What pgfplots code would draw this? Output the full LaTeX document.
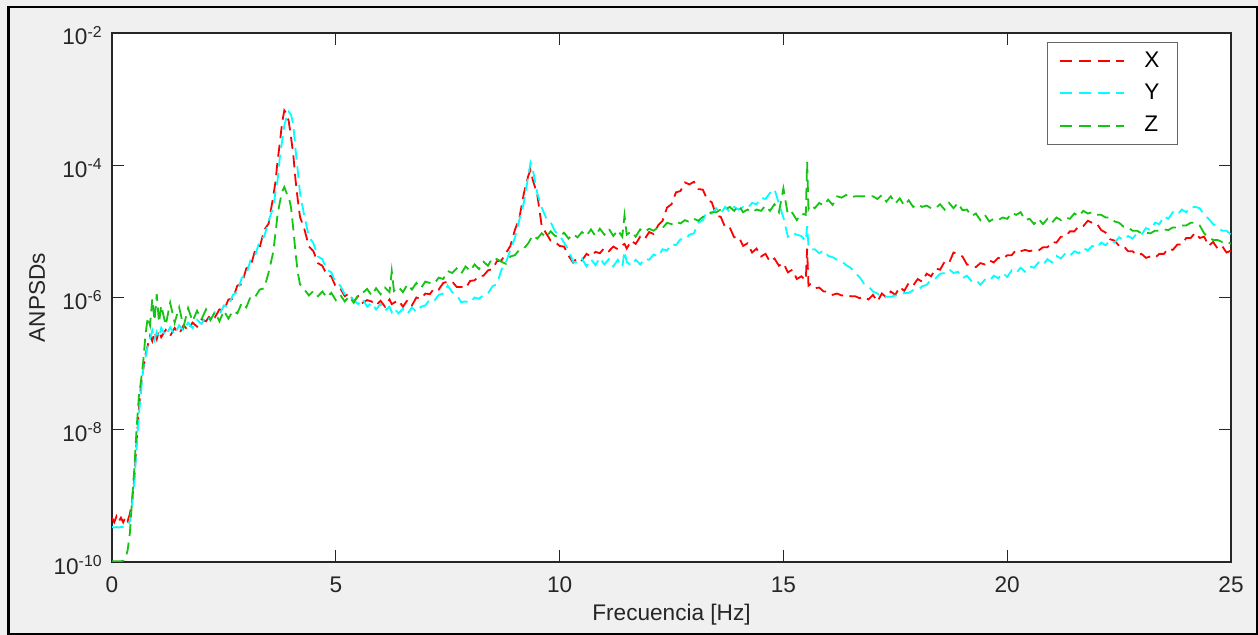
\documentclass[border=0pt]{standalone}
\usepackage{pgfplots}
\usepackage{pgfplotstable}
\pgfplotsset{compat=1.18}
\usepackage{fontspec}
\setmainfont{Liberation Sans}

\definecolor{figbg}{RGB}{240,240,240}
\definecolor{axcol}{RGB}{38,38,38}
\definecolor{cX}{RGB}{255,0,0}
\definecolor{cY}{RGB}{0,255,255}
\definecolor{cZ}{RGB}{20,195,20}

% log10 of the averaged normalised PSD per direction
\pgfplotstableread{
f      X      Y      Z
0.00  -9.33  -9.47  -9.99
0.05  -9.40  -9.48  -9.99
0.10  -9.31  -9.47  -9.99
0.15  -9.39  -9.48  -9.99
0.20  -9.33  -9.47  -9.99
0.25  -9.40  -9.47  -9.98
0.30  -9.32  -9.47  -9.94
0.35  -9.38  -9.45  -9.82
0.40  -9.27  -9.38  -9.56
0.45  -9.08  -9.12  -9.05
0.50  -8.72  -8.78  -8.58
0.55  -8.18  -8.25  -7.98
0.60  -7.70  -7.78  -7.50
0.65  -7.30  -7.42  -7.25
0.70  -7.08  -7.05  -6.95
0.75  -6.86  -6.90  -6.55
0.80  -6.72  -6.72  -6.30
0.85  -6.58  -6.62  -6.42
0.90  -6.66  -6.50  -6.02
0.95  -6.52  -6.64  -6.35
1.00  -6.63  -6.52  -5.95
1.05  -6.50  -6.60  -6.38
1.10  -6.60  -6.46  -6.12
1.20  -6.49  -6.58  -6.42
1.30  -6.58  -6.45  -6.08
1.40  -6.46  -6.56  -6.38
1.50  -6.55  -6.42  -6.15
1.60  -6.42  -6.50  -6.44
1.70  -6.50  -6.38  -6.16
1.80  -6.38  -6.46  -6.36
1.90  -6.44  -6.34  -6.20
2.00  -6.33  -6.40  -6.33
2.10  -6.36  -6.28  -6.18
2.20  -6.26  -6.34  -6.34
2.30  -6.30  -6.22  -6.22
2.40  -6.18  -6.26  -6.36
2.50  -6.20  -6.12  -6.20
2.60  -6.03  -6.14  -6.32
2.70  -6.02  -5.96  -6.20
2.80  -5.82  -5.92  -6.24
2.90  -5.80  -5.70  -6.08
3.00  -5.56  -5.66  -6.15
3.10  -5.52  -5.42  -5.98
3.20  -5.28  -5.36  -5.99
3.30  -5.24  -5.14  -5.88
3.40  -4.98  -5.08  -5.86
3.50  -4.88  -4.84  -5.62
3.60  -4.48  -4.64  -5.32
3.65  -4.26  -4.42  -5.04
3.70  -3.93  -4.22  -4.74
3.75  -3.66  -3.88  -4.56
3.80  -3.36  -3.64  -4.40
3.85  -3.17  -3.40  -4.33
3.90  -3.22  -3.27  -4.42
3.95  -3.34  -3.19  -4.48
4.00  -3.58  -3.24  -4.64
4.05  -3.84  -3.38  -4.96
4.10  -4.22  -3.76  -5.32
4.15  -4.52  -4.08  -5.62
4.20  -4.78  -4.42  -5.80
4.30  -4.97  -4.78  -5.88
4.40  -5.23  -5.08  -5.97
4.50  -5.30  -5.18  -5.90
4.60  -5.48  -5.38  -5.98
4.70  -5.52  -5.42  -5.91
4.80  -5.66  -5.58  -6.00
4.90  -5.68  -5.62  -5.93
5.00  -5.84  -5.78  -6.04
5.10  -5.86  -5.82  -5.96
5.20  -5.98  -5.95  -6.06
5.30  -5.94  -5.96  -5.98
5.40  -6.06  -6.04  -6.08
5.50  -5.98  -6.10  -5.96
5.60  -6.08  -6.02  -5.93
5.70  -6.04  -6.14  -5.87
5.80  -6.06  -6.08  -5.97
5.90  -6.12  -6.18  -5.86
6.00  -6.05  -6.10  -5.95
6.10  -6.14  -6.20  -5.85
6.20  -6.03  -6.14  -5.92
6.25  -6.10  -6.22  -5.60
6.30  -6.08  -6.16  -5.90
6.40  -6.04  -6.24  -5.84
6.50  -6.14  -6.17  -5.92
6.60  -6.04  -6.25  -5.80
6.70  -6.12  -6.15  -5.88
6.80  -6.00  -6.22  -5.78
6.90  -6.02  -6.14  -5.86
7.00  -5.94  -6.12  -5.76
7.10  -5.95  -6.03  -5.78
7.20  -5.86  -6.05  -5.79
7.30  -5.88  -5.96  -5.70
7.40  -5.78  -5.94  -5.72
7.50  -5.76  -5.82  -5.60
7.60  -5.76  -5.92  -5.63
7.70  -5.84  -5.96  -5.56
7.80  -5.84  -6.07  -5.64
7.90  -5.86  -6.06  -5.53
8.00  -5.75  -6.08  -5.60
8.10  -5.74  -6.00  -5.50
8.20  -5.67  -6.02  -5.57
8.30  -5.67  -5.96  -5.46
8.40  -5.59  -5.94  -5.52
8.50  -5.57  -5.83  -5.40
8.60  -5.45  -5.80  -5.42
8.70  -5.44  -5.58  -5.46
8.80  -5.33  -5.47  -5.49
8.90  -5.22  -5.28  -5.38
9.00  -4.98  -5.10  -5.36
9.10  -4.80  -4.83  -5.28
9.20  -4.43  -4.57  -5.26
9.30  -4.16  -4.16  -5.18
9.35  -4.07  -3.96  -5.12
9.40  -4.22  -4.06  -5.06
9.50  -4.44  -4.42  -5.11
9.60  -4.92  -4.64  -5.03
9.70  -5.03  -4.80  -5.09
9.80  -5.14  -4.86  -5.00
9.90  -5.16  -5.00  -5.07
10.00 -5.22  -5.06  -5.08
10.10 -5.23  -5.17  -5.02
10.20 -5.37  -5.28  -5.11
10.30 -5.47  -5.46  -5.04
10.40 -5.40  -5.47  -5.09
10.50 -5.44  -5.41  -5.01
10.60 -5.34  -5.53  -5.07
10.70 -5.38  -5.42  -4.97
10.80 -5.31  -5.51  -5.07
10.90 -5.33  -5.40  -4.96
11.00 -5.25  -5.50  -5.05
11.10 -5.30  -5.42  -4.96
11.20 -5.23  -5.53  -5.07
11.30 -5.27  -5.43  -4.98
11.40 -5.21  -5.54  -5.08
11.45 -5.19  -5.30  -4.76
11.50 -5.26  -5.46  -5.05
11.60 -5.14  -5.52  -5.00
11.70 -5.19  -5.43  -5.08
11.80 -5.08  -5.50  -4.97
11.90 -5.12  -5.41  -5.01
12.00 -5.01  -5.43  -4.96
12.10 -5.04  -5.35  -4.99
12.20 -4.91  -5.38  -4.94
12.30 -4.84  -5.27  -4.95
12.40 -4.64  -5.29  -4.87
12.50 -4.59  -5.19  -4.89
12.60 -4.41  -5.21  -4.85
12.70 -4.39  -5.12  -4.88
12.80 -4.26  -5.13  -4.83
12.90 -4.29  -5.05  -4.86
13.00 -4.25  -5.03  -4.81
13.10 -4.36  -4.87  -4.84
13.20 -4.37  -4.83  -4.78
13.30 -4.52  -4.69  -4.76
13.40 -4.56  -4.73  -4.71
13.50 -4.76  -4.65  -4.71
13.60 -4.78  -4.73  -4.67
13.70 -4.94  -4.63  -4.67
13.80 -4.94  -4.71  -4.63
13.90 -5.09  -4.63  -4.69
14.00 -5.08  -4.67  -4.61
14.10 -5.22  -4.63  -4.71
14.20 -5.18  -4.65  -4.67
14.30 -5.32  -4.57  -4.71
14.40 -5.26  -4.59  -4.67
14.50 -5.38  -4.49  -4.69
14.60 -5.34  -4.51  -4.61
14.70 -5.46  -4.42  -4.69
14.80 -5.41  -4.36  -4.59
14.90 -5.52  -4.58  -4.71
15.00 -5.48  -4.79  -4.35
15.10 -5.62  -5.08  -4.75
15.20 -5.58  -5.02  -4.72
15.30 -5.72  -5.05  -4.83
15.40 -5.68  -5.07  -4.73
15.50 -5.74  -5.15  -4.75
15.53 -5.26  -4.92  -3.95
15.56 -5.82  -5.22  -4.66
15.60 -5.80  -5.28  -4.60
15.70 -5.86  -5.27  -4.65
15.80 -5.85  -5.33  -4.57
15.90 -5.91  -5.29  -4.61
16.00 -5.91  -5.37  -4.52
16.10 -5.96  -5.39  -4.60
16.20 -5.94  -5.43  -4.47
16.30 -5.97  -5.45  -4.49
16.40 -5.96  -5.51  -4.45
16.50 -5.98  -5.55  -4.49
16.60 -5.98  -5.63  -4.47
16.70 -6.01  -5.69  -4.47
16.80 -5.99  -5.79  -4.47
16.90 -6.03  -5.83  -4.46
17.00 -5.96  -5.91  -4.47
17.10 -6.06  -5.94  -4.51
17.20 -5.94  -5.99  -4.45
17.30 -6.00  -5.99  -4.55
17.40 -5.91  -5.99  -4.47
17.50 -5.96  -5.97  -4.58
17.60 -5.84  -5.97  -4.50
17.70 -5.90  -5.93  -4.61
17.80 -5.78  -5.93  -4.53
17.90 -5.82  -5.89  -4.63
18.00 -5.72  -5.89  -4.59
18.10 -5.76  -5.83  -4.63
18.20 -5.64  -5.81  -4.61
18.30 -5.68  -5.73  -4.65
18.40 -5.56  -5.71  -4.65
18.50 -5.58  -5.64  -4.59
18.60 -5.46  -5.63  -4.67
18.70 -5.48  -5.57  -4.57
18.80 -5.32  -5.63  -4.65
18.90 -5.34  -5.61  -4.57
19.00 -5.38  -5.71  -4.68
19.10 -5.50  -5.67  -4.67
19.20 -5.52  -5.75  -4.77
19.30 -5.54  -5.73  -4.73
19.40 -5.48  -5.81  -4.83
19.50 -5.50  -5.73  -4.75
19.60 -5.44  -5.75  -4.85
19.70 -5.47  -5.67  -4.81
19.80 -5.40  -5.71  -4.83
19.90 -5.42  -5.63  -4.79
20.00 -5.36  -5.69  -4.81
20.10 -5.36  -5.59  -4.72
20.20 -5.28  -5.63  -4.75
20.30 -5.30  -5.55  -4.71
20.40 -5.28  -5.61  -4.83
20.50 -5.30  -5.53  -4.81
20.60 -5.28  -5.55  -4.89
20.70 -5.29  -5.47  -4.81
20.80 -5.24  -5.51  -4.89
20.90 -5.24  -5.42  -4.81
21.00 -5.16  -5.47  -4.87
21.10 -5.17  -5.37  -4.79
21.20 -5.08  -5.41  -4.83
21.30 -5.08  -5.33  -4.79
21.40 -5.00  -5.37  -4.81
21.50 -5.00  -5.30  -4.73
21.60 -4.92  -5.33  -4.77
21.70 -4.92  -5.25  -4.69
21.80 -4.84  -5.29  -4.73
21.90 -4.87  -5.22  -4.71
22.00 -4.88  -5.25  -4.75
22.10 -4.98  -5.17  -4.75
22.20 -5.02  -5.21  -4.79
22.30 -5.12  -5.13  -4.79
22.40 -5.14  -5.17  -4.85
22.50 -5.22  -5.09  -4.87
22.60 -5.22  -5.13  -4.93
22.70 -5.30  -5.07  -4.94
22.80 -5.30  -5.11  -4.99
22.90 -5.36  -5.03  -4.99
23.00 -5.34  -5.05  -5.03
23.10 -5.40  -4.95  -5.02
23.20 -5.38  -4.98  -5.03
23.30 -5.40  -4.87  -4.99
23.40 -5.34  -4.89  -4.99
23.50 -5.34  -4.77  -4.97
23.60 -5.26  -4.81  -4.98
23.70 -5.28  -4.71  -4.94
23.80 -5.20  -4.75  -4.94
23.90 -5.20  -4.67  -4.91
24.00 -5.10  -4.71  -4.91
24.10 -5.10  -4.63  -4.87
24.20 -5.02  -4.63  -4.87
24.30 -5.10  -4.65  -4.91
24.40 -5.08  -4.75  -5.03
24.50 -5.22  -4.81  -5.09
24.60 -5.16  -4.89  -5.13
24.70 -5.26  -4.93  -5.13
24.80 -5.22  -4.99  -5.16
24.90 -5.32  -4.99  -5.15
25.00 -5.29  -5.05  -5.19
}\psd

\begin{document}
\begin{tikzpicture}[x=1pt,y=1pt]
  \useasboundingbox (0,0) rectangle (629,317.5);
  \fill[figbg] (0,0) rectangle (629,317.5);
  \draw[black, line width=1.2pt] (4.2,0.6) rectangle (628.4,314);
  \begin{axis}[
    at={(56pt,36.5pt)}, anchor=south west,
    scale only axis, width=559.5pt, height=264.5pt,
    xmin=0, xmax=25, ymode=log, ymin=1e-10, ymax=1e-2,
    axis background/.style={fill=white},
    axis line style={draw=axcol, line width=0.6pt},
    every tick/.style={draw=axcol, line width=0.6pt},
    tick align=inside, major tick length=6pt,
    xtick={0,5,10,15,20,25},
    ytick={1e-10,1e-8,1e-6,1e-4,1e-2},
    yticklabels={10\textsuperscript{-10},10\textsuperscript{-8},10\textsuperscript{-6},10\textsuperscript{-4},10\textsuperscript{-2}},
    yminorticks=false,
    /pgf/number format/assume math mode=true,
    tick label style={font=\fontsize{11.3}{13}\selectfont, text=axcol, inner sep=0pt},
    xticklabel style={anchor=base, yshift=-15.5pt},
    yticklabel style={anchor=base east, xshift=-4.5pt, yshift=-6pt},
    xlabel={Frecuencia [Hz]},
    ylabel={ANPSDs},
    label style={font=\fontsize{11.3}{13}\selectfont, text=axcol, inner sep=0pt},
    xlabel style={at={(axis description cs:0.5,0)}, anchor=base, yshift=-29pt},
    ylabel style={at={(axis description cs:0,0.5)}, anchor=center, yshift=37.5pt},
    legend cell align=left,
    legend image code/.code={\draw[#1] (0pt,0pt) -- (32pt,0pt);},
    legend style={at={(axis description cs:0.8356,0.983)}, anchor=north west,
      draw=black!60, line width=0.5pt, fill=white,
      inner xsep=6pt, inner ysep=4.6pt, row sep=6.9pt,
      font=\fontsize{11.3}{13}\selectfont,
      nodes={inner sep=0pt},
      /tikz/every odd column/.append style={column sep=9.5pt}},
    every axis plot/.append style={line width=0.9pt, dash pattern=on 6pt off 3.3pt},
  ]
    \addplot[cX] table[x=f, y expr={10^(\thisrow{X})}] {\psd};
    \addlegendentry{\makebox[10.5pt][l]{X}}
    \addplot[cY] table[x=f, y expr={10^(\thisrow{Y})}] {\psd};
    \addlegendentry{\makebox[10.5pt][l]{Y}}
    \addplot[cZ] table[x=f, y expr={10^(\thisrow{Z})}] {\psd};
    \addlegendentry{\makebox[10.5pt][l]{Z}}
  \end{axis}
\end{tikzpicture}
\end{document}
